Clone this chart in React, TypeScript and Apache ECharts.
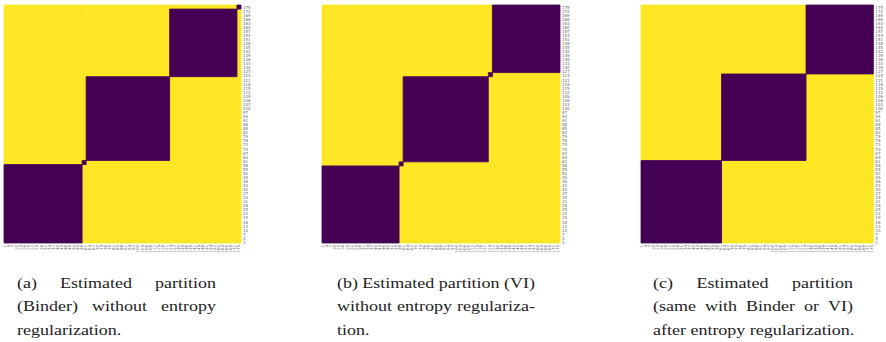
import React, { useEffect, useRef } from 'react';
import * as echarts from 'echarts';

// ---- data ----
const N = 176;
const itemLabels: string[] = Array.from({ length: N }, (_, i) => String(i + 1));
// cluster block sizes (items sorted), per panel
const partitionA = [58, 3, 62, 50, 3];
const partitionB = [57, 3, 63, 3, 50];
const partitionC = [61, 64, 51];

const captionA = ['(a) Estimated partition', '(Binder) without entropy', 'regularization.'];
const captionB = ['(b) Estimated partition (VI)', 'without entropy regulariza-', 'tion.'];
const captionC = ['(c) Estimated partition', '(same with Binder or VI)', 'after entropy regularization.'];

const PURPLE = '#440154';
const YELLOW = '#fde725';

function blockCells(sizes: number[]) {
  const starts: number[] = [];
  let s = 0;
  for (const z of sizes) { starts.push(s); s += z; }
  const cells: number[][] = [];
  sizes.forEach((zi, i) =>
    sizes.forEach((zj, j) =>
      cells.push([starts[i], starts[i] + zi - 1, starts[j], starts[j] + zj - 1, i === j ? 1 : 0])
    )
  );
  cells.sort((p, q) => p[4] - q[4]);
  return cells;
}

const FS = 15;
const SX = 1.2;
const FF = 'Liberation Serif';

function captionGraphics(lines: string[], x0: number, x1: number, ys: number[], justify: boolean[]) {
  const ctx = document.createElement('canvas').getContext('2d')!;
  ctx.font = `${FS}px "${FF}"`;
  const out: any[] = [];
  const mk = (text: string, x: number, y: number) => ({
    type: 'text', x, y, scaleX: SX,
    style: { text, fontSize: FS, fontFamily: FF, fill: '#222', align: 'left', verticalAlign: 'middle' },
  });
  lines.forEach((line, li) => {
    const y = ys[li];
    if (!justify[li]) { out.push(mk(line, x0, y)); return; }
    const words = line.split(' ');
    const widths = words.map((w) => ctx.measureText(w).width * SX);
    const total = widths.reduce((a, b) => a + b, 0);
    const gap = (x1 - x0 - total) / (words.length - 1);
    let x = x0;
    words.forEach((w, wi) => { out.push(mk(w, x, y)); x += widths[wi] + gap; });
  });
  return out;
}

export default function App() {
  const ref = useRef<HTMLDivElement>(null);
  useEffect(() => {
    if (!ref.current) return;
    const chart = echarts.init(ref.current, null, { renderer: 'svg' });
    const grids = [
      { left: 4, top: 5, width: 237, height: 238 },
      { left: 322, top: 5, width: 238, height: 238 },
      { left: 641, top: 5, width: 237, height: 238 },
    ];
    const parts = [partitionA, partitionB, partitionC];
    const axisCommon = {
      type: 'category',
      data: itemLabels,
      axisLine: { show: false },
      axisTick: { show: false },
      splitLine: { show: false },
    };
    const ys = [283, 306.5, 330];
    const graphic = [
      ...captionGraphics(captionA, 17, 216, ys, [true, true, false]),
      ...captionGraphics(captionB, 337, 535, ys, [true, true, false]),
      ...captionGraphics(captionC, 653, 853, ys, [true, true, false]),
    ];
    chart.setOption({
      animation: false,
      grid: grids,
      xAxis: grids.map((_, k) => ({
        ...axisCommon,
        gridIndex: k,
        axisLabel: { interval: 2, rotate: 90, fontSize: 4, color: '#666', margin: 2, fontFamily: 'DejaVu Sans' },
      })),
      yAxis: grids.map((_, k) => ({
        ...axisCommon,
        gridIndex: k,
        position: 'right',
        axisLabel: { interval: 2, fontSize: 4, color: '#666', margin: 2, fontFamily: 'DejaVu Sans' },
      })),
      series: parts.map((p, k) => ({
        type: 'custom',
        xAxisIndex: k,
        yAxisIndex: k,
        encode: { x: [0, 1], y: [2, 3] },
        data: blockCells(p),
        renderItem: (params: any, api: any) => {
          const a = api.coord([api.value(0), api.value(2)]);
          const b = api.coord([api.value(1), api.value(3)]);
          const sz = api.size([1, 1]);
          const left = a[0] - sz[0] / 2;
          const right = b[0] + sz[0] / 2;
          const bottom = a[1] + sz[1] / 2;
          const top = b[1] - sz[1] / 2;
          const c = api.value(4) ? PURPLE : YELLOW;
          return {
            type: 'rect',
            shape: { x: left, y: top, width: right - left, height: bottom - top },
            style: { fill: c, stroke: c, lineWidth: 0.8 },
          };
        },
      })),
      graphic,
    });
    return () => chart.dispose();
  }, []);
  return <div ref={ref} style={{ position: 'absolute', left: 0, top: 0, width: 886, height: 342, background: '#fff' }} />;
}
